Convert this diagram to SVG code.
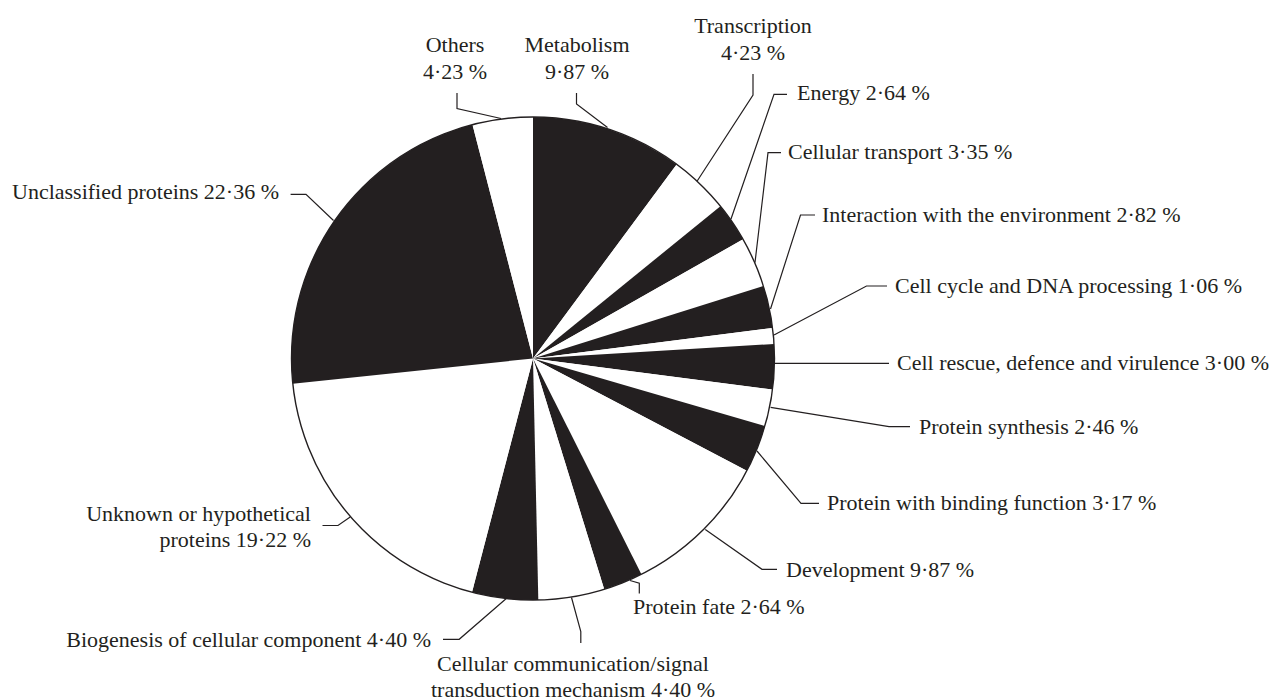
<svg xmlns="http://www.w3.org/2000/svg" width="1276" height="700" viewBox="0 0 1276 700">
<style>
.b{fill:#231f20;stroke:none}
.w{fill:#ffffff;stroke:none}
.t{font-family:"Liberation Serif","Times New Roman",serif;font-size:22px;fill:#231f20}
.m{text-anchor:middle}
.e{text-anchor:end}
.ln{fill:none;stroke:#231f20;stroke-width:1.2}
.rim{fill:none;stroke:#231f20;stroke-width:1.4}
</style>
<rect width="1276" height="700" fill="#ffffff"/>
<g id="metabolism"><path class="b" d="M533,358.5 L533,117 A241.5,241.5 0 0 1 676.6,164.4 Z"/><text class="t m" x="577" y="52">Metabolism</text><text class="t m" x="577" y="79">9·87 %</text></g>
<g id="transcription"><path class="w" d="M533,358.5 L676.6,164.4 A241.5,241.5 0 0 1 720.4,206.2 Z"/><text class="t m" x="753" y="33">Transcription</text><text class="t m" x="753" y="60">4·23 %</text></g>
<g id="energy"><path class="b" d="M533,358.5 L720.4,206.2 A241.5,241.5 0 0 1 743.1,239.3 Z"/><text class="t" x="797" y="100">Energy 2·64 %</text></g>
<g id="cellular-transport"><path class="w" d="M533,358.5 L743.1,239.3 A241.5,241.5 0 0 1 763.4,286 Z"/><text class="t" x="788" y="159">Cellular transport 3·35 %</text></g>
<g id="interaction"><path class="b" d="M533,358.5 L763.4,286 A241.5,241.5 0 0 1 772.5,327.9 Z"/><text class="t" x="822" y="222">Interaction with the environment 2·82 %</text></g>
<g id="cell-cycle"><path class="w" d="M533,358.5 L772.5,327.9 A241.5,241.5 0 0 1 774.1,343.9 Z"/><text class="t" x="895" y="293">Cell cycle and DNA processing 1·06 %</text></g>
<g id="cell-rescue"><path class="b" d="M533,358.5 L774.1,343.9 A241.5,241.5 0 0 1 772.5,389.5 Z"/><text class="t" x="897" y="370">Cell rescue, defence and virulence 3·00 %</text></g>
<g id="protein-synthesis"><path class="w" d="M533,358.5 L772.5,389.5 A241.5,241.5 0 0 1 764.9,426 Z"/><text class="t" x="919" y="434">Protein synthesis 2·46 %</text></g>
<g id="binding"><path class="b" d="M533,358.5 L764.9,426 A241.5,241.5 0 0 1 746.8,470.7 Z"/><text class="t" x="827" y="510">Protein with binding function 3·17 %</text></g>
<g id="development"><path class="w" d="M533,358.5 L746.8,470.7 A241.5,241.5 0 0 1 641.4,574.3 Z"/><text class="t" x="786" y="577">Development 9·87 %</text></g>
<g id="protein-fate"><path class="b" d="M533,358.5 L641.4,574.3 A241.5,241.5 0 0 1 604.2,589.3 Z"/><text class="t" x="633" y="614">Protein fate 2·64 %</text></g>
<g id="cellular-communication"><path class="w" d="M533,358.5 L604.2,589.3 A241.5,241.5 0 0 1 538.3,599.9 Z"/><text class="t m" x="573" y="671">Cellular communication/signal</text><text class="t m" x="573" y="697">transduction mechanism 4·40 %</text></g>
<g id="biogenesis"><path class="b" d="M533,358.5 L538.3,599.9 A241.5,241.5 0 0 1 472,592.2 Z"/><text class="t e" x="431" y="647">Biogenesis of cellular component 4·40 %</text></g>
<g id="unknown"><path class="w" d="M533,358.5 L472,592.2 A241.5,241.5 0 0 1 292.8,383.7 Z"/><text class="t e" x="311" y="521">Unknown or hypothetical</text><text class="t e" x="311" y="547">proteins 19·22 %</text></g>
<g id="unclassified"><path class="b" d="M533,358.5 L292.8,383.7 A241.5,241.5 0 0 1 472.5,124.7 Z"/><text class="t" x="12" y="199">Unclassified proteins 22·36 %</text></g>
<g id="others"><path class="w" d="M533,358.5 L472.5,124.7 A241.5,241.5 0 0 1 533,117 Z"/><text class="t m" x="455" y="52">Others</text><text class="t m" x="455" y="79">4·23 %</text></g>
<circle class="rim" cx="533" cy="358.5" r="241.5"/>
<g id="connectors">
<polyline class="ln" points="457,93 457,108.5 501,118.5"/>
<polyline class="ln" points="576.5,93 576.5,104 607.5,127.5"/>
<polyline class="ln" points="753,74 753,95 697.2,181"/>
<polyline class="ln" points="787,94.3 774,94.3 731,219"/>
<polyline class="ln" points="781,152.7 768,152.7 755,262.5"/>
<polyline class="ln" points="815,215 800.5,215 770.5,309"/>
<polyline class="ln" points="887,286 866.5,286 774,335"/>
<polyline class="ln" points="774.5,363.3 889,363.3"/>
<polyline class="ln" points="770.6,407.3 889,426.7 910,426.7"/>
<polyline class="ln" points="757,451 801,503.3 819,503.3"/>
<polyline class="ln" points="705.3,529.5 762,569.3 777,569.3"/>
<polyline class="ln" points="630,580.5 639.3,583.3 639.3,593.5"/>
<polyline class="ln" points="571.5,597.5 580.8,631.7 580.8,643"/>
<polyline class="ln" points="443,639.3 459.2,639.3 506.3,598.5"/>
<polyline class="ln" points="322.5,525.5 338,525.5 350.2,517"/>
<polyline class="ln" points="290.6,194.3 306,194.3 333.5,220.5"/>
</g>
</svg>
